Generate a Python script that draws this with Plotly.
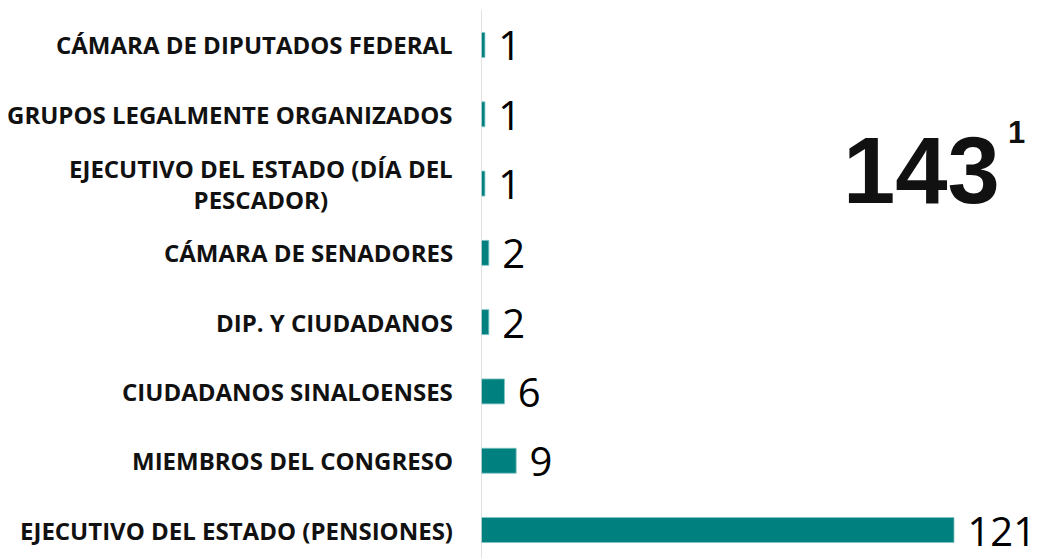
import plotly.graph_objects as go

categories = [
    "EJECUTIVO DEL ESTADO (PENSIONES)",
    "MIEMBROS DEL CONGRESO",
    "CIUDADANOS SINALOENSES",
    "DIP. Y CIUDADANOS",
    "CÁMARA DE SENADORES",
    "EJECUTIVO DEL ESTADO (DÍA DEL<br>PESCADOR)",
    "GRUPOS LEGALMENTE ORGANIZADOS",
    "CÁMARA DE DIPUTADOS FEDERAL",
]
values = [121, 9, 6, 2, 2, 1, 1, 1]
total_text = "143"
total_note = "1"

teal = "#00807F"

# the html page body has an 8px margin; figure is sized to fit window
OFF = 8
W, H = 1042 - OFF, 558 - OFF
L, R, T, B = 481 - OFF, 2, 10 - OFF, 0
pw, ph = W - L - R, H - T - B

fig = go.Figure()
fig.add_trace(go.Bar(
    x=values,
    y=list(range(len(categories))),
    orientation="h",
    marker=dict(color=teal, line=dict(color="#7fc4c3", width=0.8)),
    width=0.36,
    text=[str(v) for v in values],
    texttemplate=" %{text}",
    textposition="outside",
    textfont=dict(family="Open Sans", size=40, color="#000000"),
    constraintext="none",
    cliponaxis=False,
    hoverinfo="skip",
))

for i, c in enumerate(categories):
    fig.add_annotation(
        x=0, y=i, xref="x", yref="y",
        text="<b>" + c + "</b>",
        showarrow=False, xanchor="right", yanchor="middle",
        align="center", xshift=-26,
        font=dict(family="Open Sans", size=24, color="#111111"),
    )

fig.add_annotation(
    xref="paper", yref="paper",
    x=(921 - OFF - L) / pw, y=1 - (171 - OFF - T) / ph,
    xanchor="center", yanchor="middle",
    text="<b>" + total_text + "</b>", showarrow=False,
    font=dict(family="Liberation Sans", size=94, color="#111111"),
)
fig.add_annotation(
    xref="paper", yref="paper",
    x=(1016 - OFF - L) / pw, y=1 - (132 - OFF - T) / ph,
    text="<b>" + total_note + "</b>", showarrow=False,
    xanchor="center", yanchor="middle",
    font=dict(family="Liberation Sans", size=31, color="#111111"),
)

fig.update_layout(
    width=W, height=H,
    margin=dict(l=L, r=R, t=T, b=B, autoexpand=False),
    paper_bgcolor="white", plot_bgcolor="white",
    showlegend=False,
    xaxis=dict(range=[0, 143], visible=False, fixedrange=True),
    yaxis=dict(range=[-0.404, 7.505], showticklabels=False, showgrid=False,
               zeroline=False, showline=False, ticks=""),
    shapes=[dict(type="line", xref="x", yref="paper", x0=0, x1=0, y0=0, y1=1,
                 line=dict(color="#d9d9d9", width=1.5))],
)

fig.write_html("out.html")
